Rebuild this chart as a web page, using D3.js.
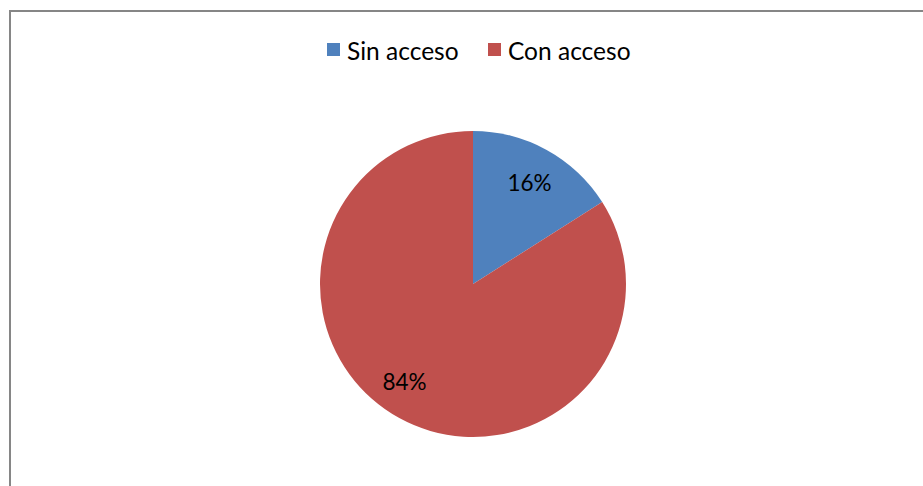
<!DOCTYPE html>
<html><head><meta charset="utf-8">
<script src="https://cdn.jsdelivr.net/npm/d3@7"></script>
<style>html,body{margin:0;padding:0;background:#fff;}svg{display:block;}</style>
</head><body>
<svg id="c" width="923" height="486"></svg>
<script>
const categories = ["Sin acceso", "Con acceso"];
const values = [16, 84];
const colors = ["#4f81bd", "#c0504d"];

const svg = d3.select("#c");
const W = 923, H = 486;
const font = "Lato, 'Open Sans', sans-serif";

// chart frame
svg.append("path").attr("d", "M10,486 V11 H923")
  .attr("fill", "none").attr("stroke", "#868686").attr("stroke-width", 2);

const cx = 473, cy = 284, r = 153;
const pie = d3.pie().sort(null).value(d => d)(values);
const arc = d3.arc().innerRadius(0).outerRadius(r);
const labelArc = d3.arc().innerRadius(r * 0.74).outerRadius(r * 0.74);
const g = svg.append("g").attr("transform", `translate(${cx},${cy})`);
g.selectAll("path").data(pie).join("path")
  .attr("d", arc).attr("fill", (d, i) => colors[i]);

const total = d3.sum(values);
g.selectAll("text").data(pie).join("text")
  .attr("x", d => labelArc.centroid(d)[0] + (d.index === 1 ? -14 : 2))
  .attr("y", d => labelArc.centroid(d)[1] - 2)
  .attr("text-anchor", "middle").attr("dominant-baseline", "central")
  .attr("font-family", font).attr("font-size", 22.5).attr("fill", "#000")
  .text(d => Math.round(d.value / total * 100) + "%");

// legend
const leg = svg.append("g");
const lx = [327, 488];
categories.forEach((c, i) => {
  leg.append("rect").attr("x", lx[i]).attr("y", 43).attr("width", 13).attr("height", 13).attr("fill", colors[i]);
  leg.append("text").attr("x", lx[i] + 20).attr("y", 50)
    .attr("dominant-baseline", "central")
    .attr("font-family", font).attr("font-size", 24.5).attr("fill", "#000").text(c);
});
</script>
</body></html>
